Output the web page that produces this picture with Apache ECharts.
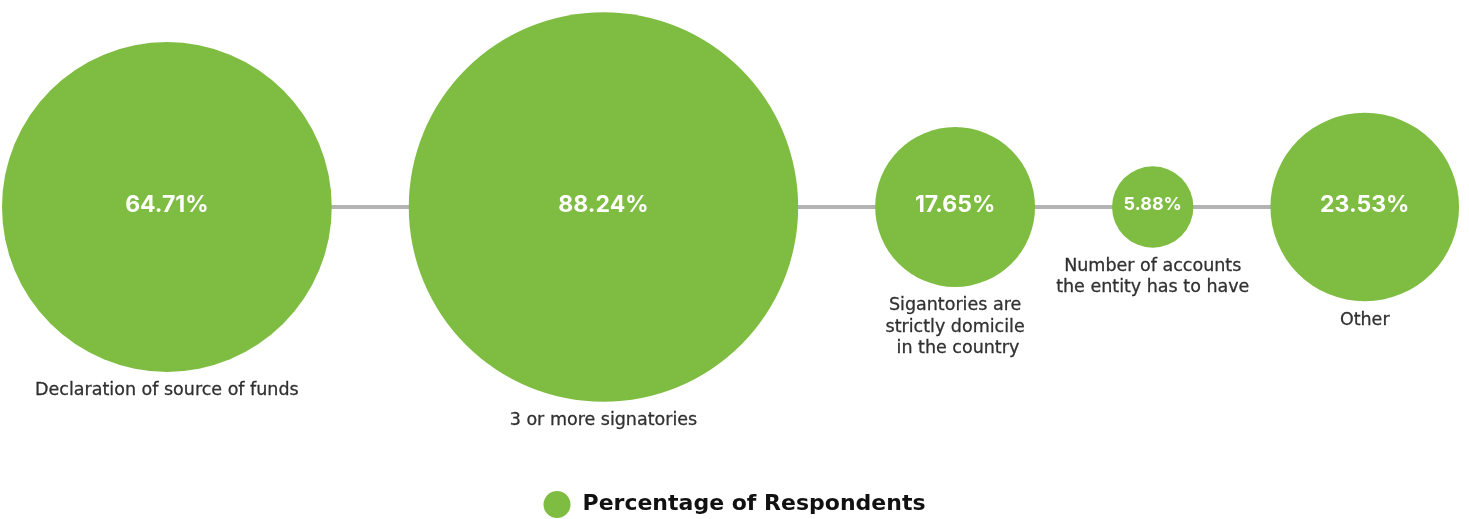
<!DOCTYPE html>
<html>
<head>
<meta charset="utf-8">
<script src="https://cdn.jsdelivr.net/npm/echarts@6/dist/echarts.min.js"></script>
<style>
  html, body { margin: 0; padding: 0; background: #ffffff; }
  #chart { width: 1469px; height: 519px; }
</style>
</head>
<body>
<div id="chart"></div>
<script>
// Account-opening requirements and the share of respondents naming each
const seriesName = 'Percentage of Respondents';
const categories = [
  'Declaration of source of funds',
  '3 or more signatories',
  'Sigantories are\nstrictly domicile\n in the country',
  'Number of accounts\nthe entity has to have',
  'Other'
];
const values = [64.71, 88.24, 17.65, 5.88, 23.53];

const WIDTH = 1469;
const GREEN = '#7fbd42';
const CAPTION_FONT = 'DejaVu Sans';
const VALUE_FONT = 'Inter';

// Bubble radius grows with the square root of the value (area-like scale)
function radiusOf(v) { return 22.1 * Math.sqrt(v) - 12.9; }

// Bubbles are laid out side by side along one horizontal connector
const LEFT = 2, GAP = 77;
let cursor = LEFT;
const centers = values.map(v => {
  const r = radiusOf(v);
  const c = cursor + r;
  cursor = c + r + GAP;
  return c;
});

const points = values.map((v, i) => ({ name: categories[i], value: [centers[i], 0, v] }));

// Percentage text size follows the bubble size, capped for the large ones
function valueFontSize(v) { return Math.min(23, Math.round(radiusOf(v) * 0.44)); }

const chart = echarts.init(document.getElementById('chart'), null, { renderer: 'canvas' });

chart.setOption({
  animation: false,
  textStyle: { fontFamily: CAPTION_FONT },
  grid: { left: 0, width: WIDTH, top: 0, height: 414 },
  xAxis: { type: 'value', min: 0, max: WIDTH, show: false },
  yAxis: { type: 'value', min: -1, max: 1, show: false },
  legend: {
    data: [seriesName],
    top: 486,
    left: 'center',
    icon: 'circle',
    itemWidth: 27,
    itemHeight: 27,
    textStyle: {
      fontSize: 22,
      fontWeight: 'bold',
      color: '#111111',
      fontFamily: CAPTION_FONT,
      padding: [0, 0, 0, 7]
    }
  },
  series: [
    {
      // grey connector behind the bubbles
      type: 'line',
      data: points.map(p => [p.value[0], 0]),
      symbol: 'none',
      silent: true,
      z: 1,
      lineStyle: { color: '#b3b3b3', width: 4 }
    },
    {
      name: seriesName,
      type: 'scatter',
      z: 3,
      data: points,
      symbol: 'circle',
      symbolSize: d => 2 * radiusOf(d[2]),
      itemStyle: { color: GREEN, opacity: 1 },
      label: {
        show: true,
        position: 'inside',
        offset: [0, -2],
        formatter: p => {
          const size = valueFontSize(p.value[2]) >= 23 ? 'big' : 'small';
          return '{' + size + '|' + p.value[2].toFixed(2) + '%}';
        },
        rich: {
          big: { color: '#ffffff', fontWeight: 'bold', fontFamily: VALUE_FONT, fontSize: 23 },
          small: { color: '#ffffff', fontWeight: 'bold', fontFamily: VALUE_FONT, fontSize: valueFontSize(5.88) }
        }
      }
    },
    {
      // category captions under each bubble
      type: 'scatter',
      z: 2,
      silent: true,
      data: points,
      symbol: 'circle',
      symbolSize: d => 2 * radiusOf(d[2]),
      itemStyle: { color: 'rgba(0,0,0,0)' },
      label: {
        show: true,
        position: 'bottom',
        distance: 8,
        align: 'center',
        color: '#000000',
        formatter: p => p.name.split('\n').map(s => '{c|' + s + '}').join('\n'),
        rich: {
          c: {
            color: '#000000',
            fontSize: 17.5,
            lineHeight: 21.5,
            fontFamily: CAPTION_FONT,
            align: 'center',
            textBorderColor: '#000000',
            textBorderWidth: 0.3
          }
        }
      }
    }
  ]
});
</script>
</body>
</html>
